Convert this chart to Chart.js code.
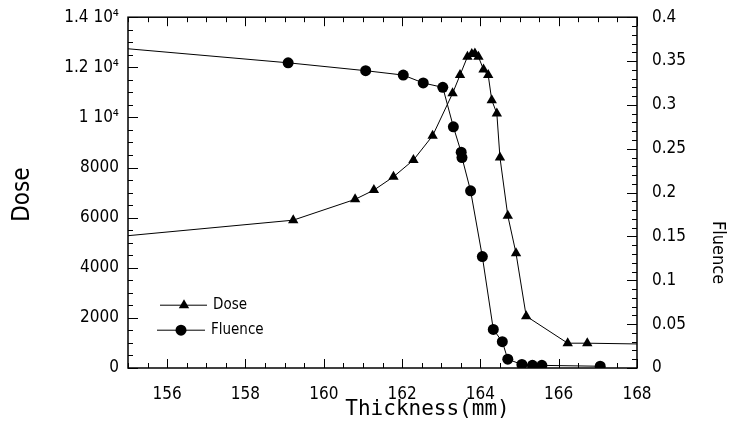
<!DOCTYPE html>
<html><head><meta charset="utf-8">
<script src="https://cdn.jsdelivr.net/npm/chart.js@4"></script>
<style>html,body{margin:0;padding:0;background:#fff}</style>
</head><body>
<canvas id="c" width="732" height="429"></canvas>
<script>
// ---- data ----
const doseX = [155, 159.22, 160.8, 161.28, 161.78, 162.29, 162.78, 163.29, 163.48, 163.67, 163.78, 163.86, 163.95, 164.08, 164.20, 164.29, 164.42, 164.50, 164.70, 164.91, 165.17, 166.23, 166.73, 168];
const doseY = [5280, 5900, 6730, 7100, 7630, 8300, 9270, 10960, 11690, 12420, 12530, 12550, 12420, 11910, 11690, 10690, 10160, 8400, 6080, 4580, 2070, 990, 990, 960];
const fluX = [155, 159.09, 161.07, 162.03, 162.54, 163.04, 163.31, 163.51, 163.53, 163.75, 164.05, 164.33, 164.56, 164.70, 165.06, 165.33, 165.57, 167.06];
const fluY = [0.364, 0.348, 0.339, 0.334, 0.325, 0.320, 0.275, 0.246, 0.240, 0.202, 0.127, 0.044, 0.030, 0.010, 0.004, 0.003, 0.003, 0.002];

const xTickValues = [156, 158, 160, 162, 164, 166, 168];
const xTickLabels = ['156', '158', '160', '162', '164', '166', '168'];
const doseTickValues = [0, 2000, 4000, 6000, 8000, 10000, 12000, 14000];
const doseTickLabels = ['0', '2000', '4000', '6000', '8000', '1 10\u2074', '1.2 10\u2074', '1.4 10\u2074'];
const fluTickValues = [0, 0.05, 0.1, 0.15, 0.2, 0.25, 0.3, 0.35, 0.4];
const fluTickLabels = ['0', '0.05', '0.1', '0.15', '0.2', '0.25', '0.3', '0.35', '0.4'];

const xTitle = 'Thickness(mm)';
const doseTitle = 'Dose';
const fluTitle = 'Fluence';
const seriesNames = ['Dose', 'Fluence'];

// ---- helpers ----
const FONT = "'Liberation Sans Narrow', 'DejaVu Sans Condensed', 'Arial Narrow', sans-serif";
function findLabel(vals, labels, v) {
  for (let i = 0; i < vals.length; i++) {
    if (Math.abs(vals[i] - v) < 1e-7 * Math.max(1, Math.abs(vals[i]))) return labels[i];
  }
  return '';
}
function isMajor(vals, v) {
  return findLabel(vals, vals.map(() => 'y'), v) === 'y';
}
const edgeRadius = (xs, r) => (ctx) => {
  const x = xs[ctx.dataIndex];
  return (x <= 155 || x >= 168) ? 0 : r;
};

const framePlugin = {
  id: 'frame',
  afterDraw(chart) {
    const { ctx, chartArea: a, scales } = chart;
    ctx.save();
    ctx.strokeStyle = '#000';
    ctx.lineWidth = 1.5;
    ctx.strokeRect(a.left, a.top, a.right - a.left, a.bottom - a.top);
    ctx.lineWidth = 1;
    const seg = (x1, y1, x2, y2) => { ctx.beginPath(); ctx.moveTo(x1, y1); ctx.lineTo(x2, y2); ctx.stroke(); };
    scales.x.ticks.forEach(t => {
      const p = Math.round(scales.x.getPixelForValue(t.value)) + 0.5;
      const L = isMajor(xTickValues, t.value) ? 9 : 5;
      seg(p, a.bottom, p, a.bottom - L);
      seg(p, a.top, p, a.top + L);
    });
    scales.y.ticks.forEach(t => {
      const p = Math.round(scales.y.getPixelForValue(t.value)) + 0.5;
      const L = isMajor(doseTickValues, t.value) ? 10 : 5;
      seg(a.left, p, a.left + L, p);
    });
    scales.y1.ticks.forEach(t => {
      const p = Math.round(scales.y1.getPixelForValue(t.value)) + 0.5;
      const L = isMajor(fluTickValues, t.value) ? 10 : 5;
      seg(a.right, p, a.right - L, p);
    });

    // axis titles
    ctx.fillStyle = '#000';
    ctx.textBaseline = 'middle';
    ctx.textAlign = 'center';
    ctx.font = "21px 'DejaVu Sans Mono', 'Liberation Mono', monospace";
    ctx.fillText(xTitle, (a.left + a.right) / 2 + 45, a.bottom + 42);
    ctx.save();
    ctx.translate(23, (a.top + a.bottom) / 2 + 2);
    ctx.rotate(-Math.PI / 2);
    ctx.font = '24px ' + FONT;
    ctx.fillText(doseTitle, 0, 0);
    ctx.restore();
    ctx.save();
    ctx.translate(718, (a.top + a.bottom) / 2 + 60);
    ctx.rotate(Math.PI / 2);
    ctx.font = '18px ' + FONT;
    ctx.fillText(fluTitle, 0, 0);
    ctx.restore();

    // legend
    const lx = a.left + 32, ly = a.top + 288;
    ctx.lineWidth = 1;
    seg(lx, ly, lx + 47, ly);
    const tx = lx + 24, r = 6;
    ctx.beginPath();
    ctx.moveTo(tx, ly - r);
    ctx.lineTo(tx + r * Math.sin(2 * Math.PI / 3), ly - r * Math.cos(2 * Math.PI / 3));
    ctx.lineTo(tx + r * Math.sin(4 * Math.PI / 3), ly - r * Math.cos(4 * Math.PI / 3));
    ctx.closePath();
    ctx.fill();
    seg(lx - 3, ly + 25, lx + 45, ly + 25);
    ctx.beginPath();
    ctx.arc(lx + 21, ly + 25, 5.5, 0, Math.PI * 2);
    ctx.fill();
    ctx.textAlign = 'left';
    ctx.font = '15px ' + FONT;
    ctx.fillText(seriesNames[0], lx + 53, ly);
    ctx.fillText(seriesNames[1], lx + 51, ly + 25);
    ctx.restore();
  }
};

new Chart(document.getElementById('c'), {
  type: 'line',
  data: {
    datasets: [
      {
        label: seriesNames[0],
        data: doseX.map((x, i) => ({ x, y: doseY[i] })),
        yAxisID: 'y',
        borderColor: '#000', backgroundColor: '#000', borderWidth: 1,
        pointStyle: 'triangle', pointRadius: edgeRadius(doseX, 6), pointBorderWidth: 0,
        tension: 0
      },
      {
        label: seriesNames[1],
        data: fluX.map((x, i) => ({ x, y: fluY[i] })),
        yAxisID: 'y1',
        borderColor: '#000', backgroundColor: '#000', borderWidth: 1,
        pointStyle: 'circle', pointRadius: edgeRadius(fluX, 5.5), pointBorderWidth: 0,
        tension: 0
      }
    ]
  },
  options: {
    responsive: false,
    animation: false,
    layout: { padding: { top: 7, left: 0, right: 0, bottom: 0 } },
    plugins: { legend: { display: false }, tooltip: { enabled: false } },
    scales: {
      x: {
        type: 'linear', min: 155, max: 168,
        grid: { display: false }, border: { display: false },
        afterFit(s) { s.height = 61; },
        ticks: {
          stepSize: 0.5, autoSkip: false, maxTicksLimit: 1000, maxRotation: 0,
          color: '#000', font: { family: FONT, size: 17 }, padding: 8,
          callback: (v) => findLabel(xTickValues, xTickLabels, v)
        }
      },
      y: {
        type: 'linear', position: 'left', min: 0, max: 14000,
        grid: { display: false }, border: { display: false },
        afterFit(s) { s.width = 128; },
        ticks: {
          stepSize: 500, autoSkip: false, maxTicksLimit: 1000,
          color: '#000', font: { family: FONT, size: 17 }, padding: 1,
          callback: (v) => findLabel(doseTickValues, doseTickLabels, v)
        }
      },
      y1: {
        type: 'linear', position: 'right', min: 0, max: 0.4,
        grid: { display: false }, border: { display: false },
        afterFit(s) { s.width = 95; },
        ticks: {
          stepSize: 0.01, autoSkip: false, maxTicksLimit: 1000,
          color: '#000', font: { family: FONT, size: 17 }, padding: 7,
          callback: (v) => findLabel(fluTickValues, fluTickLabels, v)
        }
      }
    }
  },
  plugins: [framePlugin]
});
</script>
</body></html>
